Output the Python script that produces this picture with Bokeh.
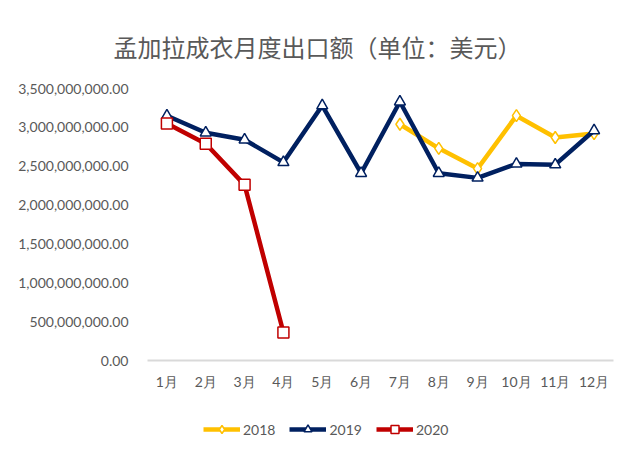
from bokeh.plotting import figure
from bokeh.layouts import column
from bokeh.models import FactorRange, Range1d, NumeralTickFormatter, Legend, LegendItem, FixedTicker
from bokeh.embed import file_html
from bokeh.resources import INLINE

months = ["1月", "2月", "3月", "4月", "5月", "6月", "7月", "8月", "9月", "10月", "11月", "12月"]
m2018 = ["7月", "8月", "9月", "10月", "11月", "12月"]
v2018 = [3.04e9, 2.73e9, 2.47e9, 3.15e9, 2.87e9, 2.92e9]
v2019 = [3.15e9, 2.93e9, 2.84e9, 2.55e9, 3.28e9, 2.41e9, 3.33e9, 2.41e9, 2.35e9, 2.53e9, 2.52e9, 2.96e9]
m2020 = ["1月", "2月", "3月", "4月"]
v2020 = [3.05e9, 2.79e9, 2.26e9, 0.36e9]
yticks = [0, 5e8, 1e9, 1.5e9, 2e9, 2.5e9, 3e9, 3.5e9]
series = ["2018", "2019", "2020"]

c18, c19, c20 = "#FFC000", "#002060", "#C00000"
data = [(m2018, v2018, c18, "diamond", 12), (months, v2019, c19, "triangle", 11), (m2020, v2020, c20, "square", 11)]

p = figure(width=618, height=392, x_range=FactorRange(*months), y_range=Range1d(0, 3.5e9),
           output_backend="svg", toolbar_location=None,
           min_border_left=147, min_border_right=5, min_border_top=88, min_border_bottom=32)

p.title.text = "孟加拉成衣月度出口额（单位：美元）"
p.title.align = "left"
p.title.text_font = "Noto Sans CJK SC"
p.title.text_font_style = "normal"
p.title.text_font_size = "24px"
p.title.text_color = "#595959"
p.title.offset = -34
p.title.standoff = 49

p.outline_line_color = None
p.xgrid.grid_line_color = None
p.ygrid.grid_line_color = None

p.yaxis.ticker = FixedTicker(ticks=yticks)
p.yaxis.formatter = NumeralTickFormatter(format="0,0.00")
p.yaxis.axis_line_color = None
p.yaxis.major_tick_line_color = None
p.yaxis.minor_tick_line_color = None
p.yaxis.major_label_text_font = "Lato"
p.yaxis.major_label_text_font_size = "14px"
p.yaxis.major_label_text_color = "#595959"
p.yaxis.major_label_standoff = 13

p.xaxis.axis_line_color = "#d9d9d9"
p.xaxis.axis_line_width = 2
p.xaxis.major_tick_line_color = None
p.xaxis.minor_tick_line_color = None
p.xaxis.major_label_text_font = "Lato"
p.xaxis.major_label_text_font_size = "14px"
p.xaxis.major_label_text_color = "#595959"
p.xaxis.major_label_standoff = 6

for xs, ys, col, mk, sz in data:
    p.line(xs, ys, line_color=col, line_width=4.5)
    p.scatter(xs, ys, marker=mk, size=sz, fill_color="white", line_color=col, line_width=1.5)

# legend strip (same series, drawn out of view; only the legend shows)
q = figure(width=618, height=56, x_range=FactorRange(*months), y_range=Range1d(-2e10, -1e10),
           output_backend="svg", toolbar_location=None,
           min_border_left=0, min_border_right=0, min_border_top=0, min_border_bottom=0)
q.axis.visible = False
q.grid.grid_line_color = None
q.outline_line_color = None
items = []
for name, (xs, ys, col, mk, sz) in zip(series, data):
    lr = q.line(xs, ys, line_color=col, line_width=4.5)
    sr = q.scatter(xs, ys, marker=mk, size=10, fill_color="white", line_color=col, line_width=1.5)
    items.append(LegendItem(label=name, renderers=[lr, sr]))
leg = Legend(items=items, orientation="horizontal", location=(56, 9),
             border_line_color=None, background_fill_alpha=0,
             label_text_font="Lato", label_text_font_size="14px", label_text_color="#595959",
             glyph_width=37, spacing=14, label_standoff=3, margin=0, padding=0)
q.add_layout(leg)

layout = column(p, q, spacing=0)
open("out.html", "w").write(file_html(layout, INLINE))
